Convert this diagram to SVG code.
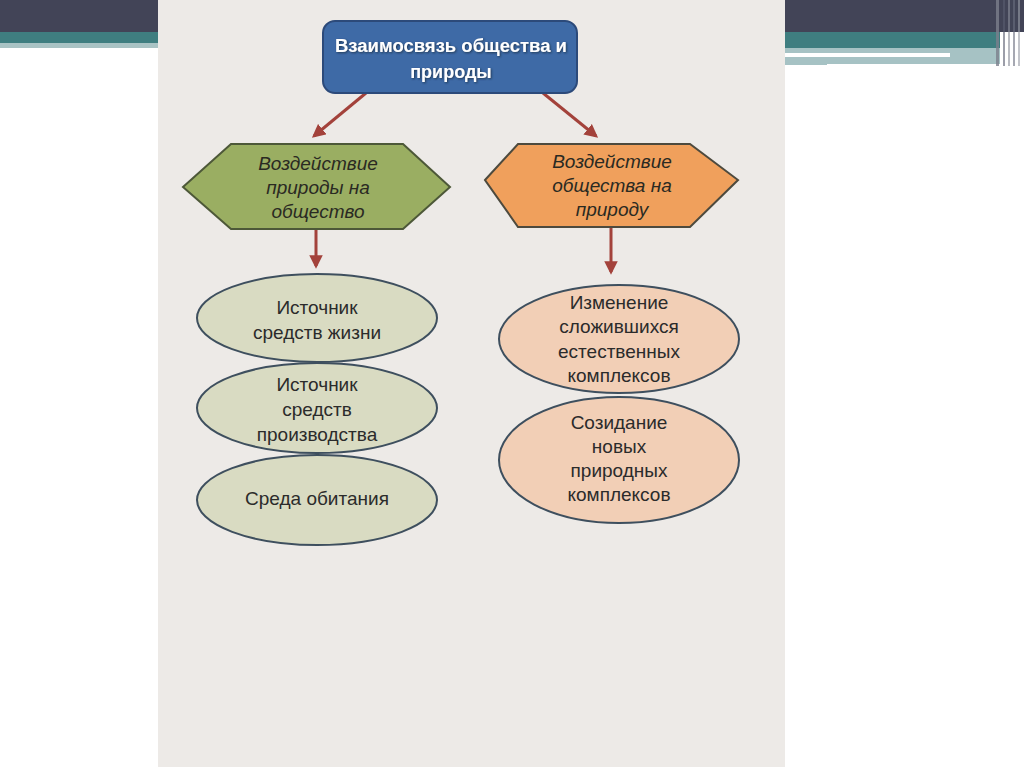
<svg xmlns="http://www.w3.org/2000/svg" width="1024" height="767" viewBox="0 0 1024 767">
<defs>
<style>
.t{font-family:"Liberation Sans",Arial,sans-serif;font-size:19px;fill:#2b2b2b;text-anchor:middle}
.i{font-family:"Liberation Sans",Arial,sans-serif;font-size:19px;font-style:italic;fill:#2a2a22;text-anchor:middle}
.h{font-family:"Liberation Sans",Arial,sans-serif;font-size:18px;font-weight:bold;fill:#ffffff;text-anchor:middle}
.c{stroke:#a3423b;stroke-width:3;fill:none}
.eg{fill:#d9dbc2;stroke:#3e4f5e;stroke-width:2}
.eo{fill:#f2cfb6;stroke:#3e4f5e;stroke-width:2}
</style>
<marker id="ah" viewBox="0 0 10 10" refX="8" refY="5" markerWidth="4.5" markerHeight="4.5" orient="auto">
<path d="M0,0 L10,5 L0,10 z" fill="#a3423b"/>
</marker>
<filter id="sh" x="-10%" y="-10%" width="120%" height="130%">
<feDropShadow dx="1" dy="1" stdDeviation="0.8" flood-color="#1a2a40" flood-opacity="0.8"/>
</filter>
</defs>
<rect width="1024" height="767" fill="#ffffff"/>
<!-- slide decoration -->
<rect x="0" y="0" width="1024" height="32" fill="#424457"/>
<rect x="0" y="32" width="160" height="11" fill="#3f7e80"/>
<rect x="0" y="43" width="160" height="5" fill="#a9c3c4"/>
<rect x="785" y="32" width="215" height="16" fill="#3f7e80"/>
<rect x="785" y="48" width="215" height="17" fill="#a6c2c4"/>
<rect x="785" y="53" width="165" height="4" fill="#ffffff"/>
<rect x="827" y="64" width="173" height="4" fill="#ffffff"/>
<rect x="996" y="0" width="3" height="66" fill="#7c7f8c" opacity="0.8"/>
<rect x="1003" y="0" width="2" height="66" fill="#5a5d70" opacity="0.6"/>
<rect x="1008" y="0" width="2" height="66" fill="#8a8d99" opacity="0.6"/>
<rect x="1013" y="0" width="2" height="66" fill="#6b6e7e" opacity="0.6"/>
<rect x="1018" y="0" width="2" height="66" fill="#9a9ca6" opacity="0.6"/>
<!-- image background -->
<rect x="158" y="0" width="627" height="767" fill="#edeae7"/>

<g id="connectors">
<line class="c" x1="366" y1="93" x2="314" y2="136" marker-end="url(#ah)"/>
<line class="c" x1="543" y1="93" x2="596" y2="136" marker-end="url(#ah)"/>
<line class="c" x1="316" y1="230" x2="316" y2="266" marker-end="url(#ah)"/>
<line class="c" x1="611" y1="228" x2="611" y2="272" marker-end="url(#ah)"/>
</g>

<g id="root">
<rect x="323" y="21" width="254" height="72" rx="12" fill="#3e6aa6" stroke="#2c4a7a" stroke-width="2"/>
<text class="h" filter="url(#sh)" x="451" y="52" textLength="232" lengthAdjust="spacingAndGlyphs">Взаимосвязь общества и</text>
<text class="h" filter="url(#sh)" x="451" y="78">природы</text>
</g>

<g id="hex-left">
<polygon points="183,187 231,144 403,144 450,187 403,229 231,229" fill="#9aae62" stroke="#4d5838" stroke-width="2"/>
<text class="i" x="318" y="170">Воздействие</text>
<text class="i" x="318" y="194">природы на</text>
<text class="i" x="318" y="218">общество</text>
</g>

<g id="hex-right">
<polygon points="485,180 518,144 690,144 738,180 690,227 518,227" fill="#f0a05c" stroke="#4d4a3e" stroke-width="2"/>
<text class="i" x="612" y="168">Воздействие</text>
<text class="i" x="612" y="192">общества на</text>
<text class="i" x="612" y="216">природу</text>
</g>

<g id="e-left-1">
<ellipse class="eg" cx="317" cy="318" rx="120" ry="44"/>
<text class="t" x="317" y="314">Источник</text>
<text class="t" x="317" y="339">средств жизни</text>
</g>
<g id="e-left-2">
<ellipse class="eg" cx="317" cy="408" rx="120" ry="45"/>
<text class="t" x="317" y="391">Источник</text>
<text class="t" x="317" y="416">средств</text>
<text class="t" x="317" y="441">производства</text>
</g>
<g id="e-left-3">
<ellipse class="eg" cx="317" cy="500" rx="120" ry="45"/>
<text class="t" x="317" y="505">Среда обитания</text>
</g>

<g id="e-right-1">
<ellipse class="eo" cx="619" cy="339" rx="120" ry="54"/>
<text class="t" x="619" y="309">Изменение</text>
<text class="t" x="619" y="333">сложившихся</text>
<text class="t" x="619" y="358">естественных</text>
<text class="t" x="619" y="382">комплексов</text>
</g>
<g id="e-right-2">
<ellipse class="eo" cx="619" cy="460" rx="120" ry="63"/>
<text class="t" x="619" y="429">Созидание</text>
<text class="t" x="619" y="453">новых</text>
<text class="t" x="619" y="477">природных</text>
<text class="t" x="619" y="501">комплексов</text>
</g>
</svg>
